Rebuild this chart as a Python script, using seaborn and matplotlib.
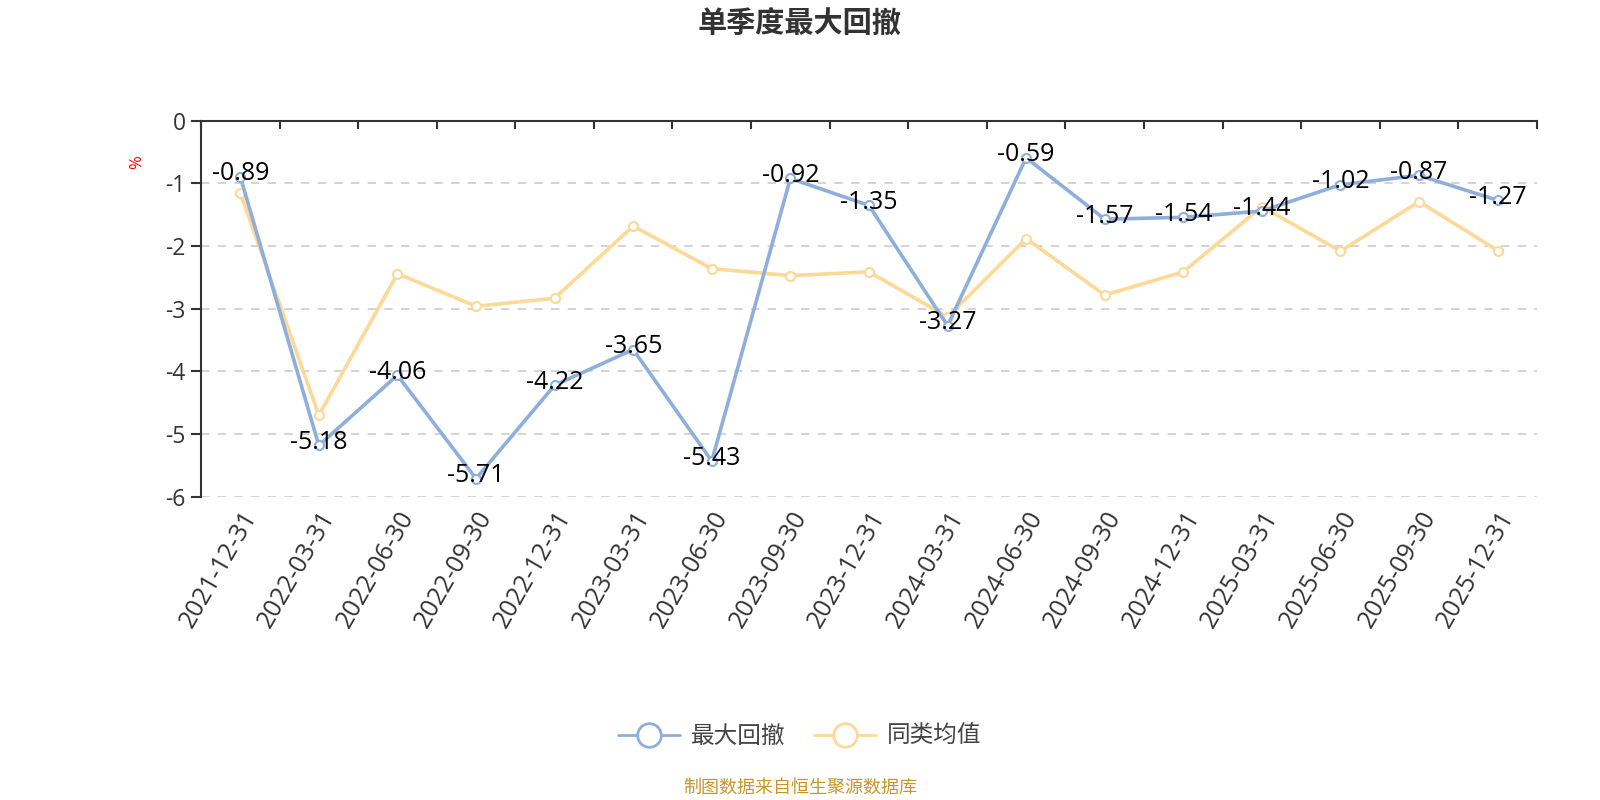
"""单季度最大回撤 line chart, seaborn recreation."""

import matplotlib

matplotlib.use("Agg")

import matplotlib.pyplot as plt
import numpy as np
import pandas as pd
import seaborn as sns
from matplotlib.lines import Line2D

quarters = [
    "2021-12-31", "2022-03-31", "2022-06-30", "2022-09-30", "2022-12-31",
    "2023-03-31", "2023-06-30", "2023-09-30", "2023-12-31", "2024-03-31",
    "2024-06-30", "2024-09-30", "2024-12-31", "2025-03-31", "2025-06-30",
    "2025-09-30", "2025-12-31",
]
max_drawdown = [
    -0.89, -5.18, -4.06, -5.71, -4.22, -3.65, -5.43, -0.92, -1.35,
    -3.27, -0.59, -1.57, -1.54, -1.44, -1.02, -0.87, -1.27,
]
peer_average = [
    -1.15, -4.70, -2.44, -2.96, -2.83, -1.68, -2.36, -2.47, -2.41,
    -3.13, -1.88, -2.78, -2.41, -1.37, -2.08, -1.29, -2.07,
]
series_names = ["最大回撤", "同类均值"]
y_ticks = [0, -1, -2, -3, -4, -5, -6]

BLUE = "#8eaedb"
YELLOW = "#fdd896"
TEXT = "#333333"

sns.set_theme(style="white")
plt.rcParams["font.family"] = ["Open Sans", "Noto Sans CJK SC", "DejaVu Sans"]
CJK = ["Noto Sans CJK SC", "DejaVu Sans"]

frame = pd.DataFrame({
    "quarter": quarters * 2,
    "value": max_drawdown + peer_average,
    "series": [series_names[0]] * len(quarters) + [series_names[1]] * len(quarters),
})
palette = {series_names[0]: BLUE, series_names[1]: YELLOW}

figure = plt.figure(figsize=(16, 8), dpi=100)
axis = figure.add_axes([0.1256, 0.379, 0.835, 0.470])

sns.lineplot(
    data=frame,
    x="quarter",
    y="value",
    hue="series",
    hue_order=[series_names[1], series_names[0]],
    palette=palette,
    marker="o",
    markersize=6.5,
    markerfacecolor="white",
    markeredgewidth=1.5,
    linewidth=2.6,
    sort=False,
    legend=False,
    ax=axis,
)
# seaborn paints marker edges white; give them the line colour instead
for line in axis.lines:
    line.set_markeredgecolor(line.get_color())

for index, value in enumerate(max_drawdown):
    axis.annotate(
        f"{value:.2f}",
        (index, value),
        xytext=(0, 2),
        textcoords="offset points",
        ha="center",
        va="center",
        fontsize=18,
        color="black",
        zorder=5,
    )

axis.set_xlim(-0.5, len(quarters) - 0.5)
axis.set_ylim(-6, 0)
axis.set_yticks(y_ticks)
axis.set_yticklabels([str(tick) for tick in y_ticks])
axis.set_xticks(range(len(quarters)))
axis.set_xticklabels(quarters, rotation=60, ha="right", rotation_mode="anchor")
axis.set_xticks(np.arange(-0.5, len(quarters), 1.0), minor=True)
axis.set_xlabel("")
axis.set_ylabel("")

axis.tick_params(axis="x", which="major", length=0, pad=7, labelsize=18, labelcolor=TEXT)
axis.tick_params(axis="x", which="minor", top=True, bottom=False, direction="in",
                 length=6, width=1.5, color=TEXT)
axis.tick_params(axis="y", which="major", left=True, direction="out", length=7,
                 width=1.5, color=TEXT, labelsize=16.5, labelcolor=TEXT, pad=4)

axis.yaxis.grid(True, linestyle=(0, (5, 5)), color="#cccccc", linewidth=1.2)
axis.xaxis.grid(False)
for side in ("right", "bottom"):
    axis.spines[side].set_visible(False)
for side in ("top", "left"):
    axis.spines[side].set_color(TEXT)
    axis.spines[side].set_linewidth(1.5)

figure.text(0.5, 0.970, "单季度最大回撤", ha="center", va="center",
            fontsize=21, fontweight="bold", color=TEXT, family=CJK)
figure.text(0.086, 0.797, "%", ha="center", va="center", rotation=90,
            fontsize=12, color="red")

handles = [
    Line2D([], [], color=color, linewidth=2, marker="o", markersize=17,
           markerfacecolor="white", markeredgewidth=2)
    for color in (BLUE, YELLOW)
]
figure.legend(
    handles,
    series_names,
    loc="center",
    bbox_to_anchor=(0.5, 0.079),
    ncol=2,
    frameon=False,
    prop={"family": CJK, "size": 17},
    labelcolor="#444444",
    handlelength=2.6,
    handletextpad=0.5,
    columnspacing=1.2,
)
figure.text(0.5, 0.015, "制图数据来自恒生聚源数据库", ha="center", va="center",
            fontsize=13, color="#c9952b", family=CJK)

figure.savefig("out.png", dpi=100)
plt.close(figure)
